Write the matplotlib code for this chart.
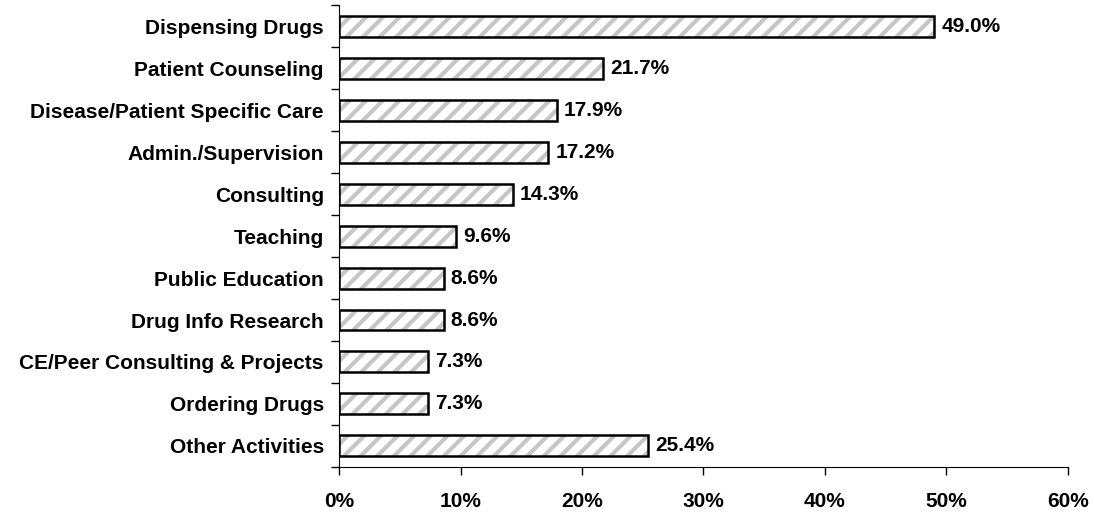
import matplotlib
matplotlib.use("Agg")
import matplotlib.pyplot as plt
import numpy as np

plt.rcParams['font.family'] = ['Liberation Sans', 'DejaVu Sans']
plt.rcParams['hatch.linewidth'] = 3.0

categories = ["Dispensing Drugs", "Patient Counseling", "Disease/Patient Specific Care",
              "Admin./Supervision", "Consulting", "Teaching", "Public Education",
              "Drug Info Research", "CE/Peer Consulting & Projects", "Ordering Drugs",
              "Other Activities"]
values = [49.0, 21.7, 17.9, 17.2, 14.3, 9.6, 8.6, 8.6, 7.3, 7.3, 25.4]
xticks = [0, 10, 20, 30, 40, 50, 60]

fig = plt.figure(figsize=(10.94, 5.12), dpi=100)
ax = fig.add_axes([0.31, 0.088, 0.666, 0.902])

y = np.arange(len(categories))
# hatched fill first, then a black outline on top
ax.barh(y, values, height=0.5, color='white', edgecolor='#c6c6c6', hatch='//', linewidth=0)
ax.barh(y, values, height=0.5, color='none', edgecolor='black', linewidth=1.8)

for yi, v in zip(y, values):
    ax.text(v + 0.6, yi, f"{v:.1f}%", va='center', ha='left', fontsize=15, fontweight='bold')

ax.set_xlim(0, 60)
ax.set_ylim(len(categories) - 0.5, -0.5)
ax.set_xticks(xticks)
ax.set_xticklabels([f"{t}%" for t in xticks], fontsize=15, fontweight='bold')
ax.set_yticks(y)
ax.set_yticklabels(categories, fontsize=15, fontweight='bold')
ax.tick_params(axis='y', length=0, pad=11)
ax.set_yticks(np.arange(len(categories) + 1) - 0.5, minor=True)
ax.tick_params(axis='y', which='minor', length=6, width=1)
ax.tick_params(axis='x', length=6, width=1, pad=12)

for s in ['top', 'right']:
    ax.spines[s].set_visible(False)

fig.savefig("out.png", dpi=100)
